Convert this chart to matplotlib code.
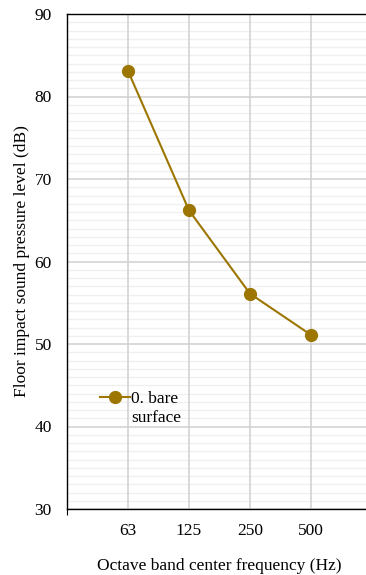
import matplotlib
matplotlib.use('Agg')
import matplotlib.pyplot as plt
from matplotlib.ticker import MultipleLocator, FixedLocator

# data
freq_labels = ['63', '125', '250', '500']
spl_bare = [83.1, 66.2, 56.1, 51.1]
series_name = '0. bare\nsurface'

plt.rcParams['font.family'] = ['Liberation Serif', 'DejaVu Serif']
plt.rcParams['font.size'] = 12.5

gold = '#9c7600'

fig = plt.figure(figsize=(3.66, 5.75), dpi=100)
# right edge of the plot area runs past the figure edge, as in the reference
ax = fig.add_axes([67/366, 66/575, 305/366, 495/575])

xpos = list(range(1, len(freq_labels) + 1))
ax.plot(xpos, spl_bare, '-o', color=gold, lw=1.5, ms=8.5, label=series_name, zorder=3)

ax.set_xlim(0, 5)
ax.set_ylim(30, 90)

# x: labels at category centres, small marks every other boundary
ax.xaxis.set_major_locator(FixedLocator(xpos))
ax.set_xticklabels(freq_labels)
ax.xaxis.set_minor_locator(FixedLocator([0, 2, 4]))
ax.tick_params(axis='x', which='major', length=0, pad=10)
ax.tick_params(axis='x', which='minor', length=4, width=0.8, direction='out')

ax.yaxis.set_major_locator(MultipleLocator(10))
ax.yaxis.set_minor_locator(MultipleLocator(1))
ax.tick_params(axis='y', which='both', length=0, pad=11)

ax.grid(True, which='major', color='#d0d0d0', lw=1.1)
ax.grid(True, which='minor', axis='y', color='#f0f0f0', lw=1.0)
ax.set_axisbelow(True)
# keep vertical grid lines on top of the faint horizontal ones
ax.yaxis.set_zorder(0.4)
ax.xaxis.set_zorder(0.6)

for s in ['top', 'left', 'bottom']:
    ax.spines[s].set_color('black')
    ax.spines[s].set_linewidth(1.0)
ax.spines['right'].set_visible(False)

ax.set_xlabel('Octave band center frequency (Hz)', labelpad=14)
ax.set_ylabel('Floor impact sound pressure level (dB)', labelpad=3)

leg = ax.legend(loc='upper left', bbox_to_anchor=(0.108, 0.238), frameon=False,
                handlelength=1.75, handletextpad=0.05, borderaxespad=0,
                borderpad=0)
# put the marker next to the first line of the two-line label
for box in leg._legend_handle_box.get_children():
    for entry in box.get_children():
        entry.align = 'top'

fig.savefig('out.png', dpi=100)
